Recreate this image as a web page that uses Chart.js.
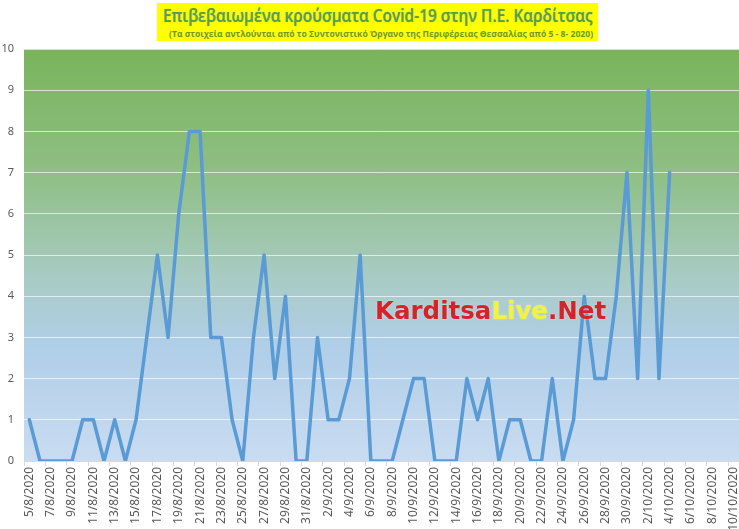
<!DOCTYPE html>
<html>
<head>
<meta charset="utf-8">
<script src="https://cdn.jsdelivr.net/npm/chart.js@4/dist/chart.umd.min.js"></script>
<style>
  body { margin: 0; background: #fff; }
  #wrap { position: relative; width: 739px; height: 529px; overflow: hidden; }
  #title-box {
    position: absolute; left: 157px; top: 3px; width: 441px; height: 38px;
    background: #ffff00; font-family: "Open Sans", sans-serif;
  }
  .fit {
    position: absolute; white-space: nowrap; transform-origin: 0 0;
  }
  #title-main {
    left: 6px; top: 1px;
    font-size: 18px; font-weight: 600; color: #56a04a; line-height: 22px;
    text-shadow: 0 0 1px rgba(68, 114, 196, 0.55);
  }
  #title-sub {
    left: 12px; top: 25px;
    font-size: 9px; font-weight: 700; color: #6f9626; line-height: 11px;
  }
  #watermark {
    position: absolute; left: 375px; top: 296px;
    font-family: "DejaVu Sans", sans-serif; font-weight: bold; font-size: 24.5px;
    color: #d6232a; text-shadow: 0 0 2px rgba(255, 255, 255, 0.5); white-space: nowrap;
  }
  #watermark span { color: #f3f23c; }
  canvas { position: absolute; left: 0; top: 0; }
</style>
</head>
<body>
<div id="wrap">
  <canvas id="covid-chart" width="739" height="529"></canvas>
  <div id="title-box">
    <div id="title-main" class="fit" data-w="430">Επιβεβαιωμένα κρούσματα Covid-19 στην Π.Ε. Καρδίτσας</div>
    <div id="title-sub" class="fit" data-w="424">(Τα στοιχεία αντλούνται από το Συντονιστικό Όργανο της Περιφέρειας Θεσσαλίας από 5 - 8- 2020)</div>
  </div>
  <div id="watermark">Karditsa<span>Live</span>.Net</div>
</div>
<script>
const DAYS = [
  '5/8/2020', '6/8/2020', '7/8/2020', '8/8/2020', '9/8/2020', '10/8/2020', '11/8/2020',
  '12/8/2020', '13/8/2020', '14/8/2020', '15/8/2020', '16/8/2020', '17/8/2020', '18/8/2020',
  '19/8/2020', '20/8/2020', '21/8/2020', '22/8/2020', '23/8/2020', '24/8/2020', '25/8/2020',
  '26/8/2020', '27/8/2020', '28/8/2020', '29/8/2020', '30/8/2020', '31/8/2020', '1/9/2020',
  '2/9/2020', '3/9/2020', '4/9/2020', '5/9/2020', '6/9/2020', '7/9/2020', '8/9/2020',
  '9/9/2020', '10/9/2020', '11/9/2020', '12/9/2020', '13/9/2020', '14/9/2020', '15/9/2020',
  '16/9/2020', '17/9/2020', '18/9/2020', '19/9/2020', '20/9/2020', '21/9/2020', '22/9/2020',
  '23/9/2020', '24/9/2020', '25/9/2020', '26/9/2020', '27/9/2020', '28/9/2020', '29/9/2020',
  '30/9/2020', '1/10/2020', '2/10/2020', '3/10/2020', '4/10/2020', '5/10/2020', '6/10/2020',
  '7/10/2020', '8/10/2020', '9/10/2020', '10/10/2020'
];

const CASES = [
  1, 0, 0, 0, 0, 1, 1, 0, 1, 0, 1, 3, 5, 3, 6, 8, 8, 3, 3, 1, 0,
  3, 5, 2, 4, 0, 0, 3, 1, 1, 2, 5, 0, 0, 0, 1, 2, 2, 0, 0, 0,
  2, 1, 2, 0, 1, 1, 0, 0, 2, 0, 1, 4, 2, 2, 4, 7, 2, 9, 2, 7,
  null, null, null, null, null, null
];

const Y_MIN = 0;
const Y_MAX = 10;

// squeeze the title lines to the width they have in the picture
document.querySelectorAll('.fit').forEach(el => {
  const k = Number(el.dataset.w) / el.offsetWidth;
  el.style.transform = `scaleX(${k})`;
});

// plot area gradient, green on top fading to light blue
const plotBackground = {
  id: 'plotBackground',
  beforeDraw(chart) {
    const { ctx, chartArea: a } = chart;
    const g = ctx.createLinearGradient(0, a.top, 0, a.bottom);
    g.addColorStop(0, '#79b45b');
    g.addColorStop(0.3, '#8fbf84');
    g.addColorStop(0.55, '#a8cbc3');
    g.addColorStop(0.72, '#b0cee8');
    g.addColorStop(1, '#c9dcf1');
    ctx.save();
    ctx.fillStyle = g;
    ctx.fillRect(a.left, a.top, a.right - a.left, a.bottom - a.top);
    ctx.restore();
  }
};

new Chart(document.getElementById('covid-chart'), {
  type: 'line',
  data: {
    labels: DAYS,
    datasets: [{
      data: CASES,
      borderColor: '#5b9bd5',
      borderWidth: 3.5,
      pointRadius: 0,
      tension: 0,
      spanGaps: false,
      borderJoinStyle: 'round',
      borderCapStyle: 'round'
    }]
  },
  options: {
    responsive: false,
    animation: false,
    layout: { padding: { top: 49, left: 0, right: 0, bottom: 0 } },
    plugins: { legend: { display: false }, tooltip: { enabled: false } },
    scales: {
      x: {
        offset: true,
        border: { display: true, color: '#d9d9d9' },
        grid: {
          offset: true,
          drawOnChartArea: false,
          drawTicks: true,
          tickLength: 5,
          tickColor: c => (c.index % 2 === 0 ? '#d9d9d9' : 'rgba(0,0,0,0)')
        },
        ticks: {
          autoSkip: false,
          minRotation: 90,
          maxRotation: 90,
          padding: 1,
          color: '#595959',
          font: { family: 'Noto Sans', size: 12 },
          callback: (v, i) => (i % 2 === 0 ? DAYS[i] : '')
        },
        afterFit(scale) {
          scale.height = 68;
          scale.paddingLeft = 0;
          scale.paddingRight = 0;
        }
      },
      y: {
        min: Y_MIN,
        max: Y_MAX,
        border: { display: false },
        grid: { color: 'rgba(255,255,255,0.65)', lineWidth: 1, drawTicks: false },
        ticks: {
          stepSize: 1,
          padding: 10,
          color: '#595959',
          font: { family: 'Noto Sans', size: 11 }
        },
        afterFit(scale) {
          scale.width = 24;
        }
      }
    }
  },
  plugins: [plotBackground]
});
</script>
</body>
</html>
